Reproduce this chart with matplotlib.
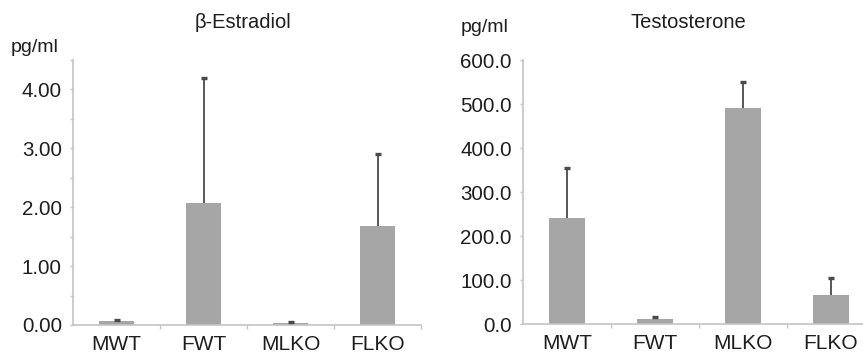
import matplotlib
matplotlib.use("Agg")
import matplotlib.pyplot as plt
from matplotlib.ticker import FormatStrFormatter, MultipleLocator

plt.rcParams['font.family'] = ['Liberation Sans', 'DejaVu Sans']

groups = ["MWT", "FWT", "MLKO", "FLKO"]

# beta-estradiol, pg/ml
estradiol = [0.06, 2.08, 0.03, 1.68]
estradiol_err = [0.03, 2.11, 0.02, 1.23]

# testosterone, pg/ml
testosterone = [242.0, 12.0, 491.0, 67.0]
testosterone_err = [112.0, 3.0, 60.0, 38.0]

bar_col = "#a6a6a6"
err_col = "#4a4a4a"
axis_col = "#c4c4c4"
text_col = "#1e1e1e"

fig = plt.figure(figsize=(8.63, 3.58), dpi=100)


def draw_panel(ax, vals, errs, ymax, fmt, major, minor):
    x = list(range(len(groups)))
    ax.bar(x, vals, width=0.4, color=bar_col, edgecolor="none", zorder=2)
    eb = ax.errorbar(x, vals, yerr=[[0] * len(errs), errs], fmt="none",
                     ecolor=err_col, elinewidth=1.3, capsize=2, capthick=2.4, zorder=3)
    # only the upper cap is shown
    eb[1][0].set_visible(False)
    ax.set_xlim(-0.5, len(groups) - 0.5)
    ax.set_ylim(0, ymax)
    ax.yaxis.set_major_locator(MultipleLocator(major))
    if minor:
        ax.yaxis.set_minor_locator(MultipleLocator(minor))
    ax.yaxis.set_major_formatter(FormatStrFormatter(fmt))
    ax.set_xticks([i + 0.5 for i in range(len(groups))])
    ax.set_xticklabels([])
    ax.set_xticks(x, minor=True)
    ax.set_xticklabels(groups, minor=True, fontsize=15, color=text_col)
    ax.tick_params(axis="x", which="major", length=3, color=axis_col, width=1)
    ax.tick_params(axis="x", which="minor", length=0, pad=7)
    ax.tick_params(axis="y", which="both", length=2, color=axis_col, width=1,
                   labelsize=14.8, labelcolor=text_col, pad=6)
    for s in ["top", "right"]:
        ax.spines[s].set_visible(False)
    for s in ["left", "bottom"]:
        ax.spines[s].set_color(axis_col)
        ax.spines[s].set_linewidth(1.2)
    ax.patch.set_alpha(0)


ax1 = fig.add_axes([73 / 863, 33 / 358, 348 / 863, 265 / 358])
draw_panel(ax1, estradiol, estradiol_err, 4.5, "%.2f", 1.0, 0.5)
fig.text(243 / 863, 1 - 23 / 358, "\u03b2-Estradiol", ha="center", va="center",
         fontsize=14.5, color=text_col)
fig.text(11 / 863, 1 - 47 / 358, "pg/ml", ha="left", va="center",
         fontsize=14, color=text_col)

ax2 = fig.add_axes([523 / 863, 34 / 358, 352 / 863, 264 / 358])
draw_panel(ax2, testosterone, testosterone_err, 600, "%.1f", 100, None)
fig.text(688 / 863, 1 - 22 / 358, "Testosterone", ha="center", va="center",
         fontsize=14.5, color=text_col)
fig.text(461 / 863, 1 - 27 / 358, "pg/ml", ha="left", va="center",
         fontsize=14, color=text_col)

fig.savefig("out.png", dpi=100, facecolor="white")
